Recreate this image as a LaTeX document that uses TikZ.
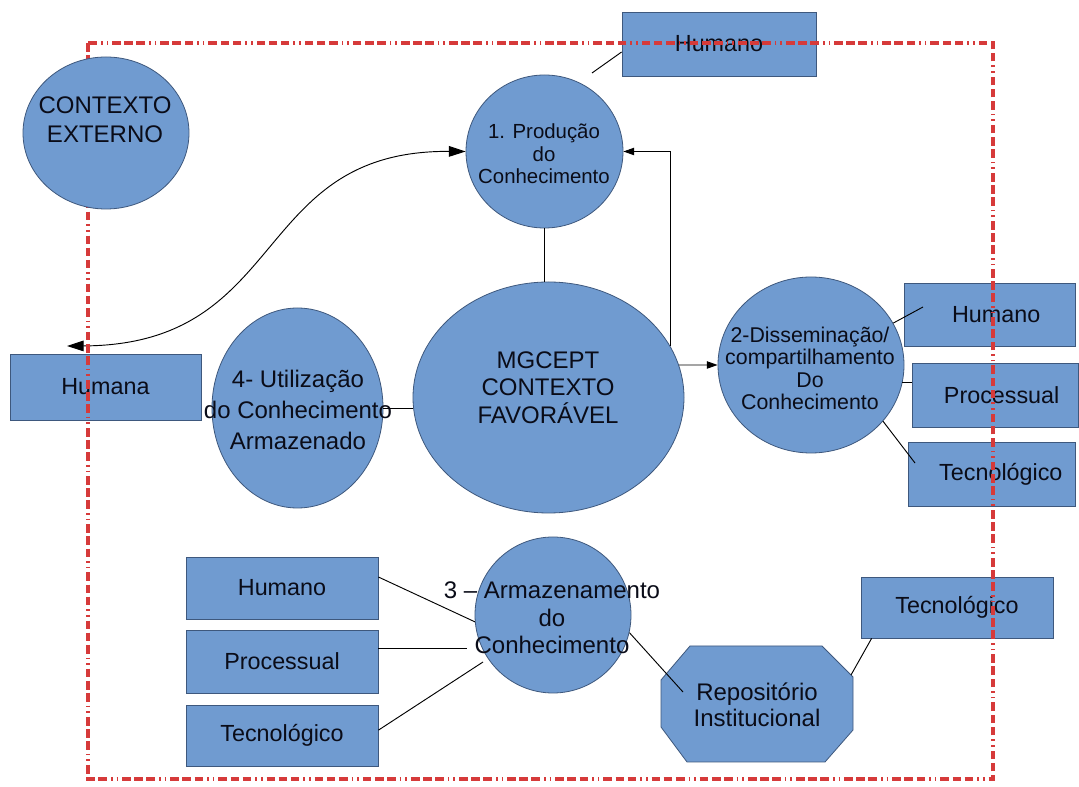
\documentclass[tikz,border=0pt]{standalone}
\usepackage{fontspec}
\setmainfont{Liberation Sans}
\usetikzlibrary{shapes.geometric,arrows.meta}
\newcommand\fsz[2]{\fontsize{#1}{#2}\selectfont}
\newcommand\pxl{0.75pt}
\definecolor{blu}{RGB}{112,155,208}
\definecolor{bord}{RGB}{62,88,125}
\definecolor{txt}{RGB}{10,12,24}
\definecolor{fr}{RGB}{214,58,58}
\tikzset{
  blob/.style={ellipse, draw=bord, fill=blu, line width=0.6pt, inner sep=0pt},
  box/.style={rectangle, draw=bord, fill=blu, line width=0.6pt, inner sep=0pt, text=txt, font=\fsz{17.5}{21}},
  lbl/.style={align=center, text=txt, inner sep=0pt},
  con/.style={draw=black, line width=0.7pt},
  smalltip/.style={-{Triangle[length=8pt,width=5.5pt]}},
  frame/.style={draw=fr, line width=2.3pt, dash pattern=on 6.5pt off 2.6pt on 6.5pt off 2.6pt on 6.5pt off 3pt on 1.2pt off 3pt on 1.2pt off 3pt}
}
\begin{document}
\begin{tikzpicture}[x=0.75pt,y=-0.75pt]
\fill[white] (0,0) rectangle (1079,787);
\useasboundingbox (0,0) rectangle (1079,787);

% boxes
\node[box, minimum width=194*\pxl, minimum height=64*\pxl] (htop) at (719,44) {Humano};
\node[box, minimum width=191*\pxl, minimum height=66*\pxl] (humana) at (105.5,387) {Humana};
\node[box, minimum width=171*\pxl, minimum height=63*\pxl] (hR) at (989.5,314.5) {\hspace{10pt}Humano};
\node[box, minimum width=166*\pxl, minimum height=64*\pxl] (pR) at (995,395) {\hspace{10pt}Processual};
\node[box, minimum width=167*\pxl, minimum height=64*\pxl] (tR) at (991.5,474) {\hspace{14pt}Tecnológico};
\node[box, minimum width=192*\pxl, minimum height=62*\pxl] (hB) at (282,588) {Humano};
\node[box, minimum width=192*\pxl, minimum height=63*\pxl] (pB) at (282,661.5) {Processual};
\node[box, minimum width=192*\pxl, minimum height=61*\pxl] (tB) at (282,735.5) {Tecnológico};
\node[box, minimum width=192*\pxl, minimum height=61*\pxl] (tR2) at (957,607.5) {Tecnológico};

% ellipses
\node[blob, minimum width=157*\pxl, minimum height=153*\pxl] (prod) at (544.5,151.5) {};
\node[lbl, font=\fsz{15.3}{16.9}] (prodt) at (544,154) {1. Produção\\do\\Conhecimento};
\node[blob, minimum width=271*\pxl, minimum height=231*\pxl] (mg) at (548.5,397.5) {};
\node[lbl, font=\fsz{18}{20.6}] (mgt) at (548,387.5) {MGCEPT\\CONTEXTO\\FAVORÁVEL};
\node[blob, minimum width=171*\pxl, minimum height=200*\pxl] (util) at (297.5,408) {};
\node[blob, minimum width=186*\pxl, minimum height=176*\pxl] (dis) at (811,365) {};
\node[blob, minimum width=156*\pxl, minimum height=156*\pxl] (arm) at (553,615) {};

% octagon
\draw[fill=blu, draw=bord, line width=0.6pt] (690,646) -- (822,646) -- (853,677) -- (853,730) -- (825,762) -- (687,762) -- (661,727) -- (661,680) -- cycle;

% free ends
\coordinate (a1) at (592,73);
\coordinate (hl) at (67,346);
\coordinate (e6) at (923,307);
\coordinate (e8) at (915,463);
\coordinate (e11) at (467,648);
\coordinate (e12) at (483,662);
\coordinate (e13) at (683,692);
\coordinate (e14) at (851,675);

% connectors
\draw[con] (a1) -- ([yshift=-6pt]htop.west);
\draw[con] (prod.south) -- (prod.south |- mg.north);
\draw[con, smalltip] (mg.23) |- (prod.east);
\draw[con, smalltip] (mg.14) -- (dis.west);
\draw[con] (util.east) -- (util.east -| mg.west);
\draw[con] (dis.27) -- (e6);
\draw[con] (dis.-11) -- (dis.-11 -| pR.west);
\draw[con] (dis.-38) -- (e8);
\draw[con, {Triangle[length=12.5pt,width=8pt]}-{Triangle[length=12.5pt,width=8pt]}] (hl) .. controls (290,345) and (250,150) .. (prod.west);
\draw[con] ([yshift=8.25pt]hB.east) -- (arm.185);
\draw[con] (pB.east |- e11) -- (e11);
\draw[con] ([yshift=4pt]tB.east) -- (e12);
\draw[con] (arm.-13) -- (e13);
\draw[con] (e14) -- ([xshift=8.25pt]tR2.south west);

% texts on ellipses
\node[lbl, font=\fsz{18}{23.2}] (utilt) at (298,410) {4- Utilização\\do Conhecimento\\Armazenado};
\node[lbl, font=\fsz{16}{16.7}] (dist) at (810,368.5) {2-Disseminação/\\compartilhamento\\Do\\Conhecimento};
\node[lbl, font=\fsz{18}{20.6}] (armt) at (552,618) {3 – Armazenamento\\do\\Conhecimento};
\node[lbl, font=\fsz{18}{19.5}] (rep) at (757,705) {Repositório\\Institucional};

% frame
\draw[frame] (88,43) rectangle (993,779);

% external context on top of frame
\node[blob, minimum width=166*\pxl, minimum height=152*\pxl] (ce) at (106,133) {};
\node[lbl, font=\fsz{18}{21.75}] (cet) at (105,119.5) {CONTEXTO\\EXTERNO};
\end{tikzpicture}
\end{document}
